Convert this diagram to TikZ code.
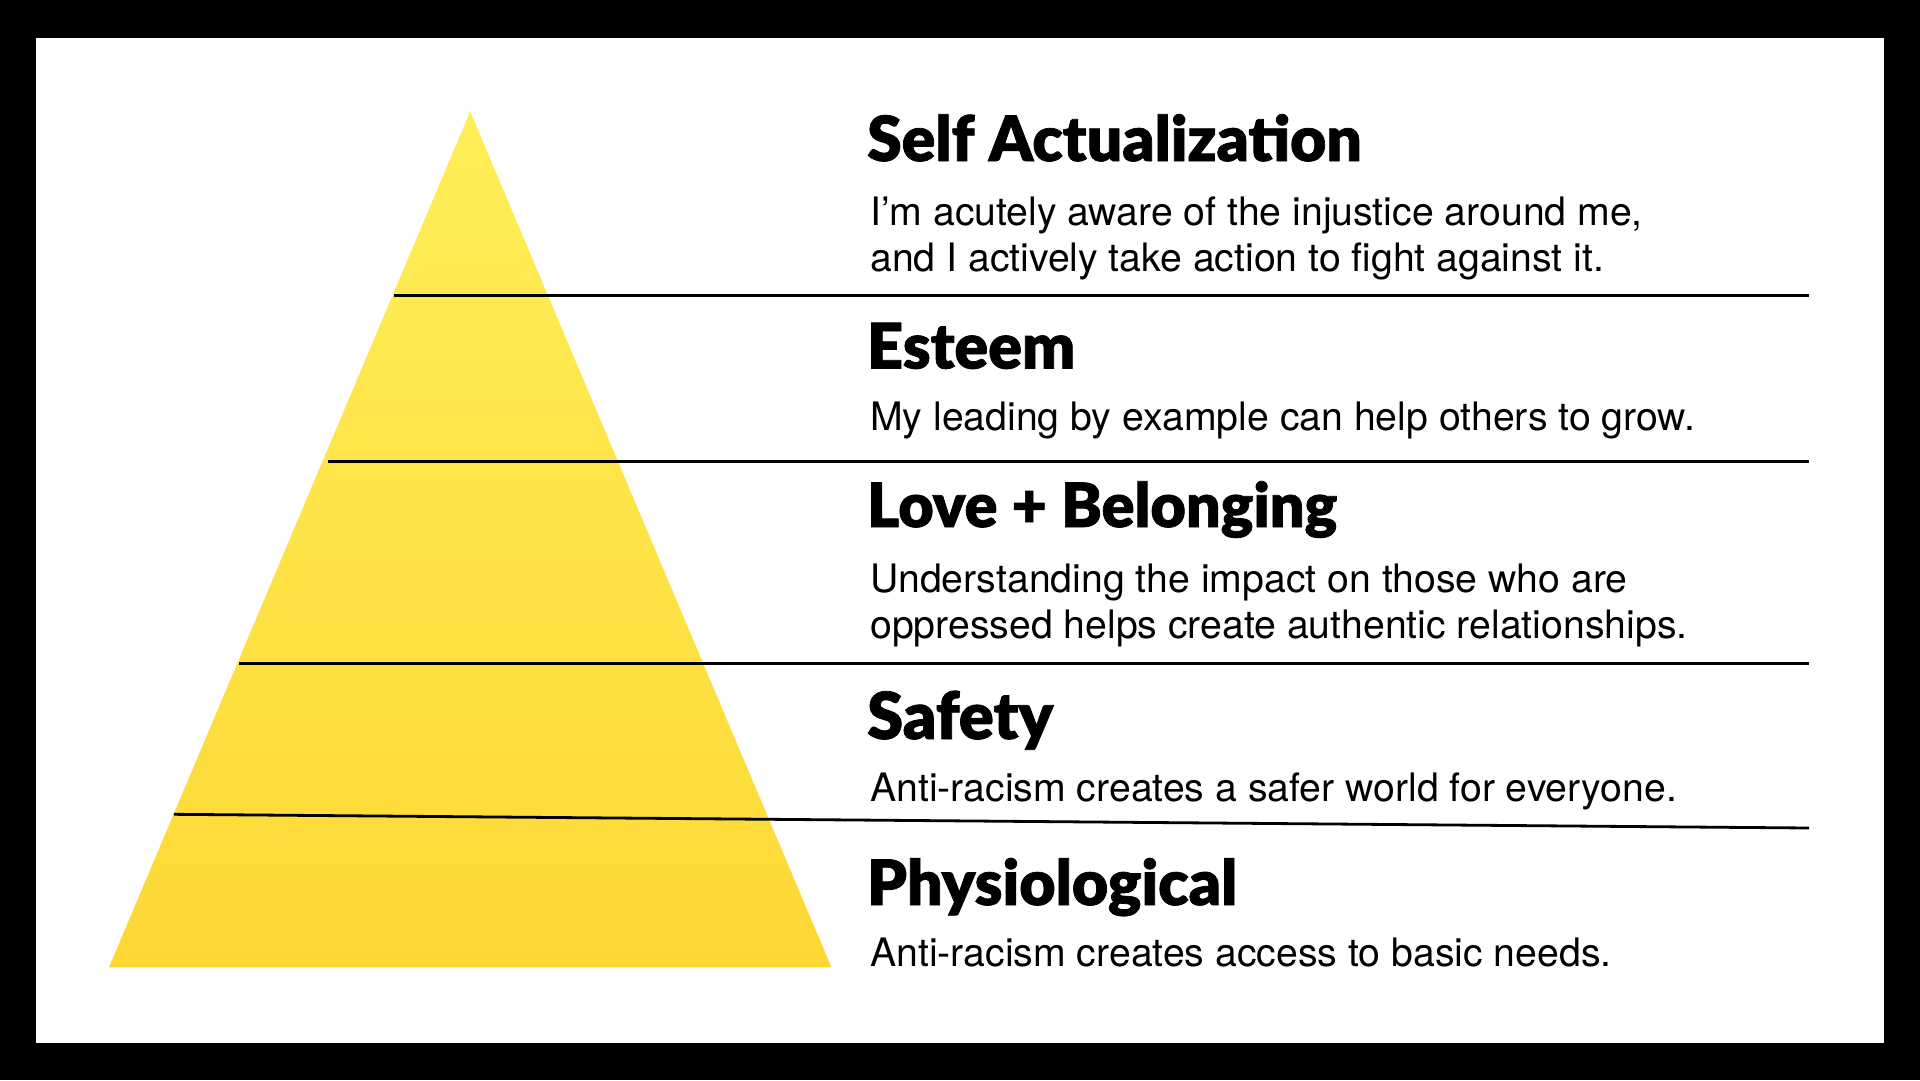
\documentclass[tikz,border=0pt]{standalone}
\usepackage{fontspec}
\setmainfont{TeX Gyre Heros}
\newfontfamily\headfont{Lato Black}[FakeBold=1.2]
\usetikzlibrary{calc}
\definecolor{ytop}{RGB}{255,238,88}
\definecolor{ybot}{RGB}{253,216,53}
\begin{document}
\begin{tikzpicture}[x=1pt,y=-1pt,
  heading/.style={anchor=base west,inner sep=0pt,font=\headfont\fontsize{52}{56}\selectfont},
  body/.style={anchor=base west,inner sep=0pt,font=\fontsize{39.2}{46}\selectfont},
  rule/.style={line width=2.8pt,black}]
\useasboundingbox (0,0) rectangle (1920,1080);
\fill[black] (0,0) rectangle (1920,1080);
\fill[white] (35.7,38.3) rectangle (1884,1043.3);
% pyramid
\coordinate (apex) at (470.2,111.4);
\coordinate (bl) at (109,967.3);
\coordinate (br) at (831.4,967.3);
\shade[top color=ytop,bottom color=ybot] (apex) -- (bl) -- (br) -- cycle;
% rules
\coordinate (l1) at (394.3,295.1);
\coordinate (l2) at (328.2,461.6);
\coordinate (l3) at (238.8,663.7);
\coordinate (l4) at (173.9,814.3);
\coordinate (r1) at (1809,295.1);
\coordinate (r2) at (1809,461.6);
\coordinate (r3) at (1809,663.7);
\coordinate (r4) at (1809,828);
\draw[rule] (l1) -- (r1);
\draw[rule] (l2) -- (r2);
\draw[rule] (l3) -- (r3);
\draw[rule] (l4) -- (r4);
% headings
\node[heading] (h1) at (867,161) {\resizebox{494.6pt}{!}{Self Actualization}};
\node[heading] (h2) at (867,368.5) {\resizebox{208pt}{!}{Esteem}};
\node[heading] (h3) at (867,527) {\resizebox{470pt}{!}{Love + Belonging}};
\node[heading] (h4) at (867,739) {\resizebox{186pt}{!}{Safety}};
\node[heading] (h5) at (867,905) {\resizebox{370pt}{!}{Physiological}};
% body texts
\node[body] (b1a) at (870,225) {I’m acutely aware of the injustice around me,};
\node[body] (b1b) at (870,271) {and I actively take action to fight against it.};
\node[body] (b2) at (870,430) {My leading by example can help others to grow.};
\node[body] (b3a) at (870,592) {Understanding the impact on those who are};
\node[body] (b3b) at (870,638) {oppressed helps create authentic relationships.};
\node[body] (b4) at (870,801) {Anti-racism creates a safer world for everyone.};
\node[body] (b5) at (870,966) {Anti-racism creates access to basic needs.};
\end{tikzpicture}
\end{document}
